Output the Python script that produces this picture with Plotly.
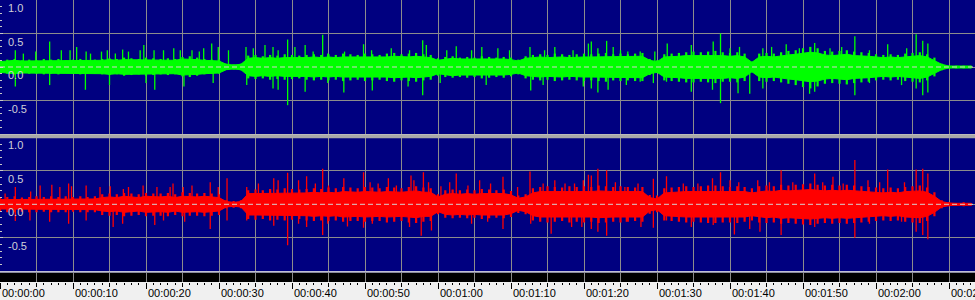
import plotly.graph_objects as go

# ---------------- data ----------------
# time axis: seconds; visible range of the view
X_MAX = 133.56

# outer envelope of each channel, one value per second (t = 0, 1, 2, ...)
green_upper = [
    0.09, 0.11, 0.12, 0.10, 0.11, 0.10, 0.12, 0.11, 0.12, 0.10,
    0.11, 0.12, 0.10, 0.11, 0.12, 0.13, 0.12, 0.14, 0.13, 0.12,
    0.14, 0.13, 0.12, 0.13, 0.12, 0.15, 0.16, 0.14, 0.12, 0.11,
    0.11, 0.05, 0.04, 0.05, 0.17, 0.18, 0.16, 0.18, 0.17, 0.19,
    0.18, 0.17, 0.18, 0.19, 0.18, 0.19, 0.18, 0.20, 0.19, 0.18,
    0.20, 0.19, 0.18, 0.20, 0.21, 0.19, 0.20, 0.21, 0.19, 0.18,
    0.13, 0.15, 0.16, 0.14, 0.15, 0.14, 0.16, 0.15, 0.14, 0.15,
    0.14, 0.11, 0.16, 0.18, 0.19, 0.18, 0.20, 0.19, 0.18, 0.19,
    0.20, 0.19, 0.20, 0.21, 0.19, 0.20, 0.19, 0.20, 0.21, 0.12,
    0.10, 0.19, 0.20, 0.21, 0.22, 0.23, 0.22, 0.23, 0.24, 0.22,
    0.21, 0.22, 0.20, 0.08, 0.20, 0.21, 0.20, 0.22, 0.24, 0.25,
    0.28, 0.30, 0.28, 0.24, 0.23, 0.24, 0.25, 0.23, 0.22, 0.21,
    0.19, 0.18, 0.19, 0.18, 0.20, 0.21, 0.22, 0.19, 0.14, 0.05,
    0.02, 0.02, 0.02, 0.02,
]
green_lower = [
    -0.09, -0.10, -0.11, -0.09, -0.10, -0.10, -0.11, -0.10, -0.11, -0.09,
    -0.10, -0.11, -0.10, -0.10, -0.11, -0.12, -0.11, -0.13, -0.12, -0.11,
    -0.13, -0.12, -0.11, -0.12, -0.11, -0.14, -0.15, -0.13, -0.11, -0.10,
    -0.10, -0.04, -0.04, -0.05, -0.17, -0.18, -0.17, -0.19, -0.18, -0.19,
    -0.18, -0.17, -0.19, -0.20, -0.19, -0.20, -0.19, -0.21, -0.20, -0.19,
    -0.21, -0.20, -0.19, -0.21, -0.22, -0.20, -0.21, -0.22, -0.20, -0.19,
    -0.13, -0.15, -0.16, -0.15, -0.16, -0.15, -0.17, -0.16, -0.15, -0.16,
    -0.14, -0.11, -0.17, -0.19, -0.20, -0.19, -0.21, -0.20, -0.19, -0.20,
    -0.21, -0.20, -0.21, -0.22, -0.20, -0.21, -0.20, -0.21, -0.21, -0.12,
    -0.09, -0.20, -0.21, -0.22, -0.23, -0.23, -0.22, -0.23, -0.24, -0.22,
    -0.22, -0.23, -0.21, -0.08, -0.21, -0.22, -0.21, -0.23, -0.25, -0.27,
    -0.30, -0.32, -0.29, -0.25, -0.24, -0.25, -0.26, -0.24, -0.23, -0.22,
    -0.20, -0.19, -0.20, -0.19, -0.21, -0.22, -0.23, -0.20, -0.14, -0.05,
    -0.02, -0.02, -0.02, -0.02,
]
red_upper = [
    0.10, 0.11, 0.12, 0.10, 0.11, 0.12, 0.11, 0.12, 0.11, 0.12,
    0.11, 0.12, 0.11, 0.12, 0.15, 0.16, 0.15, 0.17, 0.16, 0.15,
    0.17, 0.16, 0.16, 0.17, 0.15, 0.18, 0.17, 0.16, 0.17, 0.16,
    0.15, 0.06, 0.05, 0.06, 0.21, 0.22, 0.21, 0.23, 0.22, 0.24,
    0.23, 0.22, 0.23, 0.24, 0.23, 0.25, 0.24, 0.26, 0.25, 0.24,
    0.26, 0.25, 0.24, 0.26, 0.25, 0.24, 0.26, 0.27, 0.25, 0.24,
    0.15, 0.21, 0.22, 0.21, 0.22, 0.21, 0.23, 0.22, 0.21, 0.22,
    0.20, 0.13, 0.15, 0.24, 0.26, 0.27, 0.26, 0.25, 0.27, 0.26,
    0.27, 0.26, 0.28, 0.27, 0.26, 0.27, 0.26, 0.25, 0.26, 0.14,
    0.13, 0.24, 0.25, 0.26, 0.27, 0.26, 0.27, 0.28, 0.28, 0.27,
    0.26, 0.27, 0.26, 0.24, 0.27, 0.28, 0.27, 0.29, 0.28, 0.29,
    0.30, 0.31, 0.29, 0.28, 0.29, 0.28, 0.29, 0.28, 0.27, 0.26,
    0.25, 0.24, 0.25, 0.24, 0.26, 0.27, 0.28, 0.25, 0.18, 0.06,
    0.03, 0.02, 0.03, 0.02,
]
red_lower = [
    -0.11, -0.12, -0.12, -0.11, -0.12, -0.12, -0.11, -0.12, -0.12, -0.12,
    -0.11, -0.12, -0.12, -0.12, -0.16, -0.17, -0.16, -0.18, -0.17, -0.16,
    -0.18, -0.17, -0.17, -0.18, -0.16, -0.18, -0.17, -0.17, -0.18, -0.17,
    -0.16, -0.06, -0.05, -0.06, -0.22, -0.23, -0.22, -0.24, -0.23, -0.24,
    -0.23, -0.22, -0.24, -0.25, -0.24, -0.25, -0.24, -0.26, -0.25, -0.25,
    -0.26, -0.25, -0.25, -0.27, -0.26, -0.25, -0.27, -0.28, -0.26, -0.25,
    -0.15, -0.20, -0.21, -0.20, -0.21, -0.20, -0.22, -0.21, -0.20, -0.21,
    -0.19, -0.13, -0.15, -0.24, -0.26, -0.27, -0.26, -0.25, -0.27, -0.26,
    -0.27, -0.26, -0.28, -0.27, -0.26, -0.27, -0.26, -0.25, -0.26, -0.14,
    -0.12, -0.24, -0.25, -0.26, -0.27, -0.26, -0.27, -0.28, -0.28, -0.27,
    -0.27, -0.28, -0.26, -0.24, -0.27, -0.28, -0.27, -0.29, -0.28, -0.29,
    -0.30, -0.31, -0.29, -0.28, -0.29, -0.28, -0.29, -0.28, -0.27, -0.26,
    -0.25, -0.24, -0.25, -0.24, -0.26, -0.27, -0.28, -0.25, -0.18, -0.06,
    -0.03, -0.02, -0.03, -0.02,
]

# solid (dense) core of each channel, magnitude per second
green_core = [
    0.08, 0.09, 0.10, 0.09, 0.09, 0.09, 0.10, 0.09, 0.10, 0.09,
    0.09, 0.10, 0.09, 0.09, 0.10, 0.11, 0.10, 0.11, 0.11, 0.10,
    0.11, 0.11, 0.10, 0.11, 0.10, 0.12, 0.12, 0.11, 0.10, 0.09,
    0.09, 0.04, 0.03, 0.04, 0.13, 0.14, 0.13, 0.14, 0.13, 0.14,
    0.14, 0.13, 0.14, 0.15, 0.14, 0.15, 0.14, 0.15, 0.15, 0.14,
    0.15, 0.15, 0.14, 0.15, 0.16, 0.15, 0.15, 0.16, 0.15, 0.14,
    0.10, 0.12, 0.13, 0.12, 0.12, 0.12, 0.13, 0.12, 0.12, 0.12,
    0.11, 0.09, 0.13, 0.14, 0.15, 0.14, 0.15, 0.15, 0.14, 0.15,
    0.15, 0.15, 0.15, 0.16, 0.15, 0.15, 0.15, 0.15, 0.16, 0.10,
    0.08, 0.15, 0.15, 0.16, 0.17, 0.17, 0.17, 0.17, 0.18, 0.17,
    0.16, 0.17, 0.15, 0.07, 0.15, 0.16, 0.15, 0.17, 0.18, 0.19,
    0.21, 0.22, 0.21, 0.18, 0.17, 0.18, 0.19, 0.17, 0.17, 0.16,
    0.15, 0.14, 0.15, 0.14, 0.15, 0.16, 0.17, 0.15, 0.10, 0.04,
    0.015, 0.015, 0.015, 0.015,
]
red_core = [
    0.07, 0.07, 0.08, 0.07, 0.07, 0.08, 0.07, 0.08, 0.07, 0.08,
    0.07, 0.08, 0.07, 0.08, 0.10, 0.11, 0.10, 0.12, 0.11, 0.10,
    0.12, 0.11, 0.11, 0.12, 0.10, 0.12, 0.11, 0.11, 0.12, 0.11,
    0.10, 0.04, 0.03, 0.04, 0.16, 0.16, 0.16, 0.17, 0.16, 0.17,
    0.17, 0.16, 0.17, 0.18, 0.17, 0.18, 0.17, 0.19, 0.18, 0.18,
    0.19, 0.18, 0.18, 0.19, 0.18, 0.18, 0.19, 0.20, 0.18, 0.18,
    0.11, 0.15, 0.16, 0.15, 0.16, 0.15, 0.16, 0.16, 0.15, 0.16,
    0.14, 0.09, 0.11, 0.17, 0.19, 0.19, 0.19, 0.18, 0.19, 0.19,
    0.19, 0.19, 0.20, 0.19, 0.19, 0.19, 0.19, 0.18, 0.19, 0.10,
    0.08, 0.17, 0.18, 0.19, 0.19, 0.19, 0.19, 0.20, 0.20, 0.19,
    0.19, 0.20, 0.19, 0.17, 0.19, 0.20, 0.19, 0.21, 0.20, 0.21,
    0.21, 0.22, 0.21, 0.20, 0.21, 0.20, 0.21, 0.20, 0.19, 0.19,
    0.18, 0.17, 0.18, 0.17, 0.19, 0.19, 0.20, 0.18, 0.12, 0.04,
    0.02, 0.015, 0.02, 0.015,
]

# individual peaks standing out of the body (time in s, amplitude)
green_up_t = [2.1, 3.2, 4.9, 6.8, 8.4, 9.6, 10.5, 11.8, 12.4, 13.9,
              14.7, 15.8, 16.8, 17.6, 19.2, 19.7, 21.1, 22.4, 23.8, 24.7,
              26.3, 27.3, 27.9, 29.0, 29.9, 31.3, 33.7, 34.7, 36.3, 37.4,
              38.1, 39.4, 40.4, 41.8, 42.9, 44.2,
              44.9, 47.2, 49.8, 50.9, 53.6, 56.1, 57.9, 58.4, 61.2, 62.5,
              64.6, 66.0, 68.2, 69.8, 72.6, 74.6, 76.0, 78.5, 80.6, 81.0,
              81.9, 83.1, 84.0, 85.0, 86.0, 87.7,
              89.7, 91.4, 94.7, 97.7, 98.7, 100.0, 101.3, 104.5, 105.7, 107.7,
              109.5, 111.6, 113.7, 115.3, 117.1, 119.1, 121.6, 124.2, 125.5, 126.4,
              127.1]
green_up_v = [0.25, 0.20, 0.23, 0.38, 0.25, 0.25, 0.30, 0.23, 0.20, 0.23,
              0.25, 0.20, 0.26, 0.23, 0.25, 0.33, 0.25, 0.25, 0.28, 0.25,
              0.25, 0.23, 0.28, 0.35, 0.30, 0.25, 0.30, 0.28, 0.33, 0.30,
              0.25, 0.41, 0.30, 0.33, 0.23, 0.48,
              0.20, 0.23, 0.34, 0.25, 0.28, 0.25, 0.40, 0.33, 0.25, 0.31,
              0.25, 0.30, 0.28, 0.25, 0.30, 0.25, 0.30, 0.25, 0.35, 0.38,
              0.28, 0.39, 0.30, 0.25, 0.23, 0.23,
              0.23, 0.35, 0.33, 0.38, 0.50, 0.28, 0.30, 0.28, 0.30, 0.34,
              0.28, 0.36, 0.28, 0.30, 0.46, 0.25, 0.34, 0.28, 0.49, 0.39,
              0.35]
green_dn_t = [2.1, 6.8, 11.7, 15.0, 20.0, 21.2, 25.2, 29.2, 33.8, 37.4, 38.1, 39.4, 41.8,
              44.9, 47.1, 51.0, 55.9, 57.9, 60.3, 66.6, 72.7, 74.4, 79.9, 81.0, 81.9,
              83.3, 85.8, 87.7,
              89.5, 91.3, 94.7, 97.6, 98.7, 101.1, 102.7, 104.5, 110.9, 111.6, 117.1,
              119.1, 123.5, 125.5, 126.4, 127.1]
green_dn_v = [-0.29, -0.27, -0.34, -0.27, -0.24, -0.34, -0.29, -0.24, -0.27, -0.32, -0.34, -0.57, -0.37,
              -0.24, -0.38, -0.35, -0.29, -0.42, -0.24, -0.27, -0.35, -0.27, -0.29, -0.32, -0.38,
              -0.34, -0.27, -0.22,
              -0.24, -0.22, -0.37, -0.34, -0.54, -0.39, -0.40, -0.32, -0.40, -0.37, -0.42,
              -0.24, -0.27, -0.32, -0.42, -0.38]

red_up_t = [0.7, 2.1, 4.2, 5.5, 7.1, 8.2, 9.4, 9.8, 11.8, 13.7,
            15.1, 16.9, 17.6, 19.6, 21.5, 23.3, 23.7, 25.1, 26.3, 28.8,
            29.9, 31.1, 33.8, 35.4, 37.5, 38.1, 39.4, 40.9, 42.0, 43.2, 44.2,
            45.0, 47.1, 49.8, 50.7, 51.8, 53.2, 54.3, 56.3, 56.7, 58.0,
            58.7, 60.4, 61.6, 62.5, 64.1, 65.7, 67.2, 68.9, 70.9, 72.6,
            74.4, 76.0, 77.4, 78.7, 79.9, 80.6, 81.0, 81.9, 83.1, 84.3, 85.6, 87.4,
            89.5, 91.3, 93.6, 95.6, 97.6, 98.7, 100.0, 101.2, 103.8, 105.4,
            107.0, 108.6, 111.6, 112.7, 114.1, 115.5, 117.1, 118.9, 120.5, 121.6,
            123.9, 125.5, 126.4, 127.1]
red_up_v = [0.16, 0.26, 0.19, 0.28, 0.29, 0.26, 0.31, 0.27, 0.28, 0.26,
            0.27, 0.23, 0.26, 0.28, 0.26, 0.26, 0.31, 0.26, 0.28, 0.33,
            0.26, 0.39, 0.26, 0.31, 0.39, 0.36, 0.47, 0.36, 0.42, 0.31, 0.53,
            0.28, 0.39, 0.48, 0.33, 0.31, 0.39, 0.28, 0.43, 0.36, 0.48,
            0.33, 0.27, 0.33, 0.46, 0.28, 0.36, 0.31, 0.41, 0.26, 0.49,
            0.31, 0.36, 0.31, 0.31, 0.36, 0.44, 0.43, 0.53, 0.51, 0.33, 0.26, 0.31,
            0.38, 0.42, 0.31, 0.31, 0.39, 0.48, 0.36, 0.33, 0.36, 0.33,
            0.51, 0.33, 0.46, 0.33, 0.41, 0.31, 0.66, 0.36, 0.33, 0.52,
            0.33, 0.52, 0.53, 0.46]
red_dn_t = [2.1, 4.1, 6.8, 9.4, 11.8, 15.5, 16.8, 21.2, 22.4, 25.3, 28.8, 31.1, 33.8,
            37.5, 39.4, 40.9, 42.0, 44.2,
            44.9, 47.6, 49.8, 51.0, 56.1, 57.7, 59.1, 64.6, 66.8, 68.9, 72.7, 75.5,
            78.3, 79.7, 81.0, 81.9, 83.1, 85.8, 87.8,
            89.5, 91.3, 94.7, 97.7, 100.6, 102.7, 104.1, 107.0, 111.6, 117.1, 119.1,
            123.5, 125.5, 126.4, 127.1]
red_dn_v = [-0.25, -0.24, -0.26, -0.29, -0.24, -0.34, -0.29, -0.31, -0.24, -0.26, -0.37, -0.24, -0.24,
            -0.32, -0.61, -0.29, -0.34, -0.46,
            -0.29, -0.33, -0.35, -0.29, -0.34, -0.47, -0.39, -0.29, -0.26, -0.37, -0.29, -0.44,
            -0.34, -0.34, -0.37, -0.41, -0.47, -0.26, -0.34,
            -0.35, -0.24, -0.34, -0.31, -0.45, -0.37, -0.41, -0.46, -0.34, -0.50, -0.29,
            -0.26, -0.41, -0.46, -0.52]

time_label_secs = [0, 10, 20, 30, 40, 50, 60, 70, 80, 90, 100, 110, 120, 130]
time_labels = ["00:00:00", "00:00:10", "00:00:20", "00:00:30", "00:00:40",
               "00:00:50", "00:01:00", "00:01:10", "00:01:20", "00:01:30",
               "00:01:40", "00:01:50", "00:02:00", "00:02:10"]
amp_label_vals = [1.0, 0.5, 0.0, -0.5]
amp_labels = ["1.0", "0.5", "0.0", "-0.5"]

# ---------------- styling ----------------
H = 300.0
NAVY = "#000080"
GRID = "#8c8c8c"
GREEN = "#00ff00"
RED = "#ff0000"
FONT = "Liberation Sans, Arial, sans-serif"


def py(px):
    return 1 - px / H


fig = go.Figure()


def add_channel(upper, lower, core, up_t, up_v, dn_t, dn_v, color, yax):
    t = list(range(len(core)))
    # dense core
    fig.add_trace(go.Scatter(x=t, y=[-c for c in core], mode="lines", yaxis=yax,
                             line=dict(color=color, width=1), hoverinfo="skip"))
    fig.add_trace(go.Scatter(x=t, y=core, mode="lines", yaxis=yax, fill="tonexty",
                             fillcolor=color, line=dict(color=color, width=1),
                             hoverinfo="skip"))
    # per-second envelope strokes
    xs, ys = [], []
    for tt, lo, hi in zip(t, lower, upper):
        xs += [tt, tt, None]
        ys += [lo, hi, None]
    fig.add_trace(go.Scatter(x=xs, y=ys, mode="lines", yaxis=yax,
                             line=dict(color=color, width=2.2), hoverinfo="skip"))
    # individual peaks
    xs, ys = [], []
    for tt, vv in zip(up_t, up_v):
        xs += [tt, tt, None]
        ys += [0, vv, None]
    for tt, vv in zip(dn_t, dn_v):
        xs += [tt, tt, None]
        ys += [vv, 0, None]
    fig.add_trace(go.Scatter(x=xs, y=ys, mode="lines", yaxis=yax,
                             line=dict(color=color, width=1.3), hoverinfo="skip"))


add_channel(green_upper, green_lower, green_core, green_up_t, green_up_v,
            green_dn_t, green_dn_v, GREEN, "y")
add_channel(red_upper, red_lower, red_core, red_up_t, red_up_v,
            red_dn_t, red_dn_v, RED, "y2")

# empty traces creating the strip subplot and the 1-second tick axis
fig.add_trace(go.Scatter(x=[], y=[], xaxis="x", yaxis="y3", hoverinfo="skip"))
fig.add_trace(go.Scatter(x=[], y=[], xaxis="x2", yaxis="y3", hoverinfo="skip"))

amp_axis = dict(range=[-1, 1], anchor="x", dtick=0.5, tick0=0, showgrid=True,
                gridcolor=GRID, gridwidth=1, zeroline=False, showline=False,
                ticks="inside", ticklen=3, tickcolor="#c8c8c8", showticklabels=False,
                minor=dict(dtick=0.1, tick0=0, ticks="inside", ticklen=2,
                           tickcolor="#c8c8c8", showgrid=False),
                fixedrange=True)

fig.update_layout(
    width=975, height=300,
    margin=dict(l=0, r=0, t=0, b=0),
    paper_bgcolor="#f0f0f0", plot_bgcolor=NAVY,
    showlegend=False,
    xaxis=dict(range=[0, X_MAX], anchor="free", position=py(282),
               showgrid=True, gridcolor=GRID, gridwidth=1, tick0=0, dtick=10,
               ticks="outside", ticklen=6, tickcolor="#000000", tickwidth=1,
               showticklabels=False, zeroline=False, showline=False,
               minor=dict(tick0=0, dtick=5, ticks="outside", ticklen=4,
                          tickcolor="#000000", showgrid=True, gridcolor=GRID, gridwidth=1),
               fixedrange=True),
    xaxis2=dict(range=[0, X_MAX], overlaying="x", anchor="free", position=py(282),
                showgrid=False, tick0=0, dtick=1, ticks="outside", ticklen=2,
                tickcolor="#000000", showticklabels=False, zeroline=False,
                showline=False, fixedrange=True),
    yaxis=dict(domain=[py(134), 1.0], **amp_axis),
    yaxis2=dict(domain=[py(271.3), py(137.3)], **amp_axis),
    yaxis3=dict(domain=[py(282), py(272.5)], range=[0, 1], anchor="x", showgrid=False,
                zeroline=False, showticklabels=False, ticks="", fixedrange=True),
)

shapes = [
    # black strip below the waveforms
    dict(type="rect", xref="paper", yref="paper", x0=0, x1=1, y0=py(282), y1=py(272.5),
         fillcolor="#000000", line=dict(width=0), layer="below"),
    # light line on top of the strip
    dict(type="line", xref="paper", yref="paper", x0=0, x1=1, y0=py(272), y1=py(272),
         line=dict(color="#d8d8d8", width=1), layer="above"),
    # separator between the two channels
    dict(type="rect", xref="paper", yref="paper", x0=0, x1=1, y0=py(138.3), y1=py(134.3),
         fillcolor="#a8a8a8", line=dict(width=0), layer="above"),
]
for yref in ["y", "y2"]:
    shapes.append(dict(type="line", xref="paper", yref=yref, x0=0, x1=1, y0=0, y1=0,
                       line=dict(color="#d8d0d0", width=1, dash="5px,3px"), layer="above"))
fig.update_layout(shapes=shapes)

annotations = []
for s, lab in zip(time_label_secs, time_labels):
    annotations.append(dict(x=s, y=py(292.5), xref="x", yref="paper", text=lab,
                            xanchor="left", yanchor="middle", showarrow=False,
                            font=dict(family=FONT, size=11, color="#000000")))
for yref in ["y", "y2"]:
    for v, lab in zip(amp_label_vals, amp_labels):
        annotations.append(dict(x=0.006, y=v, xref="paper", yref=yref, text=lab,
                                xanchor="left", yanchor="top", showarrow=False,
                                font=dict(family=FONT, size=11, color="#d0d0d8")))
fig.update_layout(annotations=annotations)

fig.write_html("out.html")
